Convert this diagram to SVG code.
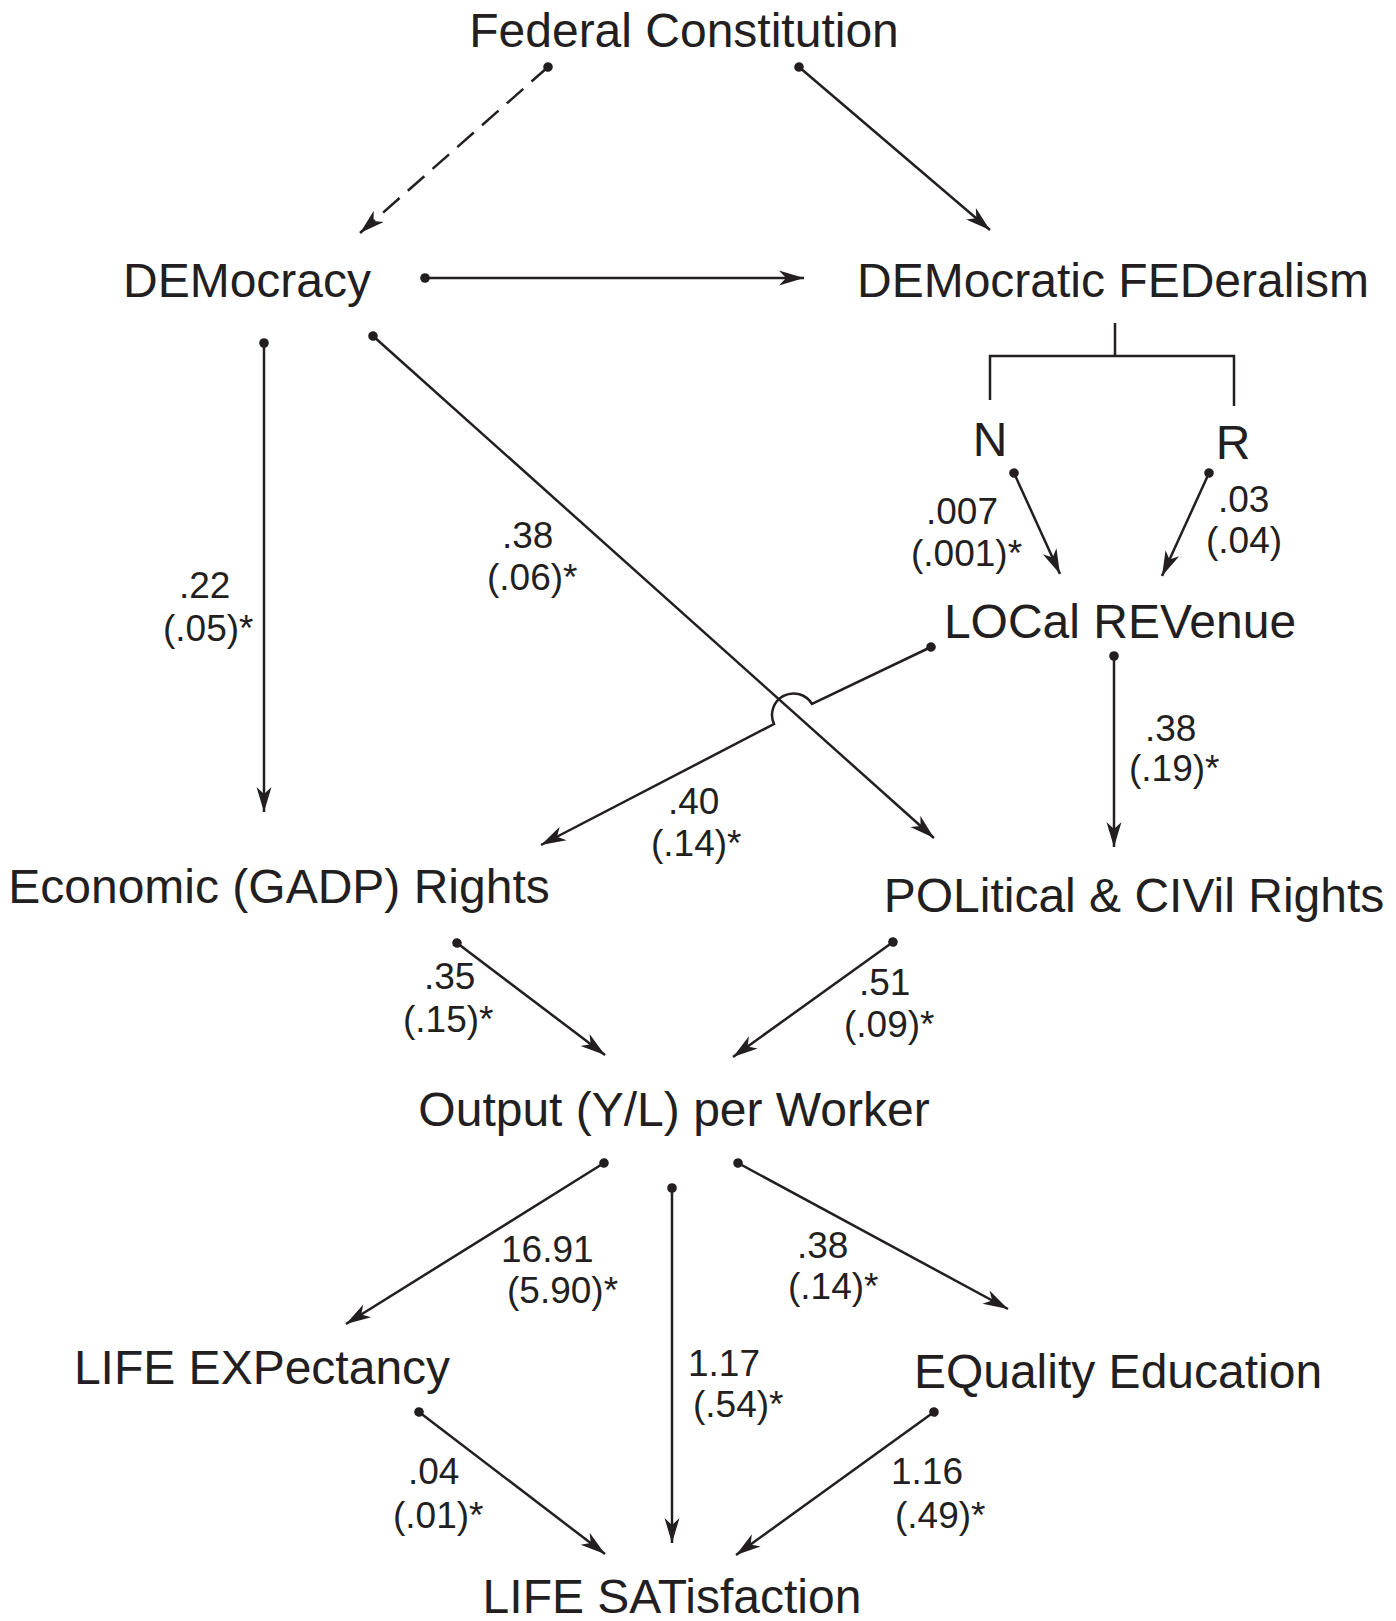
<svg xmlns="http://www.w3.org/2000/svg" width="1396" height="1621" viewBox="0 0 1396 1621">
<style>
.node{font-family:"Liberation Sans",Arial,sans-serif;font-size:48px;fill:#231f20;text-anchor:middle}
.lbl{font-family:"Liberation Sans",Arial,sans-serif;font-size:37px;fill:#231f20}
.c{fill:none;stroke:#231f20;stroke-width:2.5;marker-start:url(#dot);marker-end:url(#arr)}
.d{stroke-dasharray:22 11}
.b{fill:none;stroke:#231f20;stroke-width:2.5}
</style>
<defs>
<marker id="arr" viewBox="-27 -10 29 20" refX="0" refY="0" markerWidth="29" markerHeight="20" markerUnits="userSpaceOnUse" orient="auto">
<path d="M0,0 L-25,-7.5 L-18,0 L-25,7.5 Z" fill="#231f20"/>
</marker>
<marker id="dot" viewBox="-6 -6 12 12" refX="0" refY="0" markerWidth="12" markerHeight="12" markerUnits="userSpaceOnUse" orient="auto">
<circle cx="0" cy="0" r="4.8" fill="#231f20"/>
</marker>
</defs>
<rect width="1396" height="1621" fill="#ffffff"/>
<g id="connectors">
<path class="c d" d="M548,67 L360,233"/>
<path class="c" d="M799,67 L990,230"/>
<path class="c" d="M425,278 L804,278"/>
<path class="c" d="M264,343 L264,812"/>
<path class="c" d="M373,336 L934,838"/>
<path class="b" d="M1115,323 L1115,356 M990,400 L990,356 L1234,356 L1234,406"/>
<path class="c" d="M1014,473 L1060,574"/>
<path class="c" d="M1209,473 L1162,576"/>
<path class="c" d="M931,647 L812,704 A21.5,21.5 0 0 0 774,724 L541,845"/>
<path class="c" d="M1114,656 L1114,847"/>
<path class="c" d="M457,943 L605,1055"/>
<path class="c" d="M893,942 L733,1057"/>
<path class="c" d="M604,1163 L346,1324"/>
<path class="c" d="M672,1188 L672,1543"/>
<path class="c" d="M738,1163 L1008,1309"/>
<path class="c" d="M419,1412 L605,1554"/>
<path class="c" d="M934,1412 L736,1555"/>
</g>
<g id="edge-labels">
<text class="lbl" x="179" y="598">.22</text><text class="lbl" x="163" y="641">(.05)*</text>
<text class="lbl" x="502" y="548">.38</text><text class="lbl" x="487" y="590">(.06)*</text>
<text class="lbl" x="926" y="524">.007</text><text class="lbl" x="911" y="566">(.001)*</text>
<text class="lbl" x="1218" y="512">.03</text><text class="lbl" x="1206" y="553">(.04)</text>
<text class="lbl" x="1145" y="741">.38</text><text class="lbl" x="1129" y="781">(.19)*</text>
<text class="lbl" x="668" y="814">.40</text><text class="lbl" x="651" y="856">(.14)*</text>
<text class="lbl" x="424" y="989">.35</text><text class="lbl" x="403" y="1032">(.15)*</text>
<text class="lbl" x="859" y="995">.51</text><text class="lbl" x="844" y="1037">(.09)*</text>
<text class="lbl" x="501" y="1262">16.91</text><text class="lbl" x="507" y="1303">(5.90)*</text>
<text class="lbl" x="797" y="1258">.38</text><text class="lbl" x="788" y="1299">(.14)*</text>
<text class="lbl" x="688" y="1376">1.17</text><text class="lbl" x="693" y="1417">(.54)*</text>
<text class="lbl" x="408" y="1484">.04</text><text class="lbl" x="393" y="1528">(.01)*</text>
<text class="lbl" x="891" y="1484">1.16</text><text class="lbl" x="895" y="1528">(.49)*</text>
</g>
<g id="node-fc"><text class="node" x="684" y="47">Federal Constitution</text></g>
<g id="node-dem"><text class="node" x="247" y="297">DEMocracy</text></g>
<g id="node-demfed"><text class="node" x="1113" y="297">DEMocratic FEDeralism</text></g>
<g id="node-n"><text class="node" x="990" y="456">N</text></g>
<g id="node-r"><text class="node" x="1233" y="459">R</text></g>
<g id="node-loc"><text class="node" x="1120" y="638">LOCal REVenue</text></g>
<g id="node-econ"><text class="node" x="279" y="903">Economic (GADP) Rights</text></g>
<g id="node-pol"><text class="node" x="1134" y="912">POLitical &amp; CIVil Rights</text></g>
<g id="node-output"><text class="node" x="674" y="1126">Output (Y/L) per Worker</text></g>
<g id="node-lifeexp"><text class="node" x="262" y="1384">LIFE EXPectancy</text></g>
<g id="node-eq"><text class="node" x="1118" y="1388">EQuality Education</text></g>
<g id="node-lifesat"><text class="node" x="672" y="1613">LIFE SATisfaction</text></g>
</svg>
